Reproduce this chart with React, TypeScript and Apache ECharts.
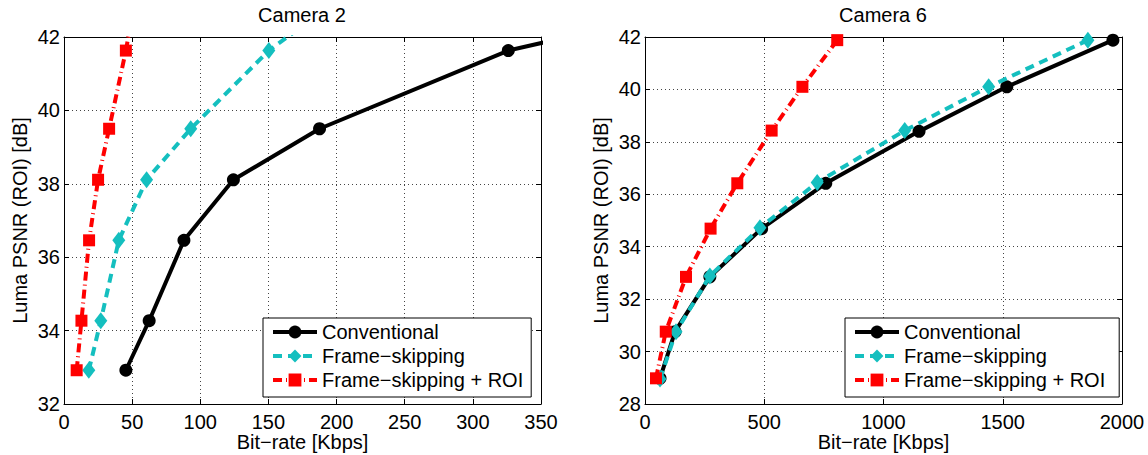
import React, { useEffect, useRef } from "react";
import * as echarts from "echarts";

// Camera 2 (left)
const cam2ConvX = [45.4, 62.5, 88, 124.3, 187.5, 326, 450];
const cam2ConvY = [32.92, 34.27, 36.46, 38.11, 39.5, 41.63, 42.68];
const cam2SkipX = [18.2, 27, 40.2, 60.6, 93, 150.3, 200];
const cam2SkipY = [32.92, 34.27, 36.46, 38.11, 39.5, 41.63, 42.98];
const cam2RoiX = [9.3, 12.8, 18.4, 25, 33.1, 45.4, 52];
const cam2RoiY = [32.92, 34.27, 36.46, 38.11, 39.5, 41.63, 43.0];

// Camera 6 (right)
const cam6ConvX = [63, 126, 272, 489, 758, 1149, 1517, 1962];
const cam6ConvY = [28.98, 30.76, 32.85, 34.69, 36.42, 38.4, 40.1, 41.88];
const cam6SkipX = [63, 130, 272, 482, 722, 1089, 1441, 1857];
const cam6SkipY = [28.95, 30.76, 32.88, 34.72, 36.45, 38.43, 40.1, 41.88];
const cam6RoiX = [46, 87, 172, 275, 387, 531, 660, 806];
const cam6RoiY = [28.98, 30.76, 32.85, 34.69, 36.42, 38.43, 40.1, 41.88];

const titles = ["Camera 2", "Camera 6"];
const seriesNames = ["Conventional", "Frame\u2212skipping", "Frame\u2212skipping + ROI"];
const xAxisName = "Bit\u2212rate [Kbps]";
const yAxisName = "Luma PSNR (ROI) [dB]";

const FONT = "Liberation Sans, Arial, Helvetica, sans-serif";
const CYAN = "#14bfbf";
const RED = "#ff0000";

const zip = (xs: number[], ys: number[]) => xs.map((x, i) => [x, ys[i]]);

export default function App() {
  const ref = useRef<HTMLDivElement>(null);
  useEffect(() => {
    if (!ref.current) return;
    const chart = echarts.init(ref.current, null, { renderer: "svg" });

    const grids = [
      { left: 64, top: 37, width: 477, height: 367, containLabel: false, outerBoundsMode: "none" },
      { left: 645, top: 37, width: 477, height: 367, containLabel: false, outerBoundsMode: "none" },
    ];
    const xRanges = [
      { min: 0, max: 350, interval: 50 },
      { min: 0, max: 2000, interval: 500 },
    ];
    const yRanges = [
      { min: 32, max: 42, interval: 2 },
      { min: 28, max: 42, interval: 2 },
    ];

    const labelStyle = { fontFamily: FONT, fontSize: 20, color: "#000" };
    const xAxes: any[] = [];
    const yAxes: any[] = [];
    [0, 1].forEach((g) => {
      xAxes.push({
        type: "value",
        gridIndex: g,
        position: "bottom",
        ...xRanges[g],
        name: xAxisName,
        nameLocation: "middle",
        nameGap: 28,
        nameMoveOverlap: false,
        nameTextStyle: { ...labelStyle, lineHeight: 20 },
        axisLine: { show: true, onZero: false, lineStyle: { color: "#000", width: 1 } },
        axisTick: { show: true, inside: true, length: 5, lineStyle: { color: "#000" } },
        axisLabel: { ...labelStyle, margin: 8, formatter: (v: number) => String(v) },
        splitLine: { show: true, lineStyle: { color: "#444", type: [1, 3], width: 1 } },
      });
      xAxes.push({
        type: "value",
        gridIndex: g,
        position: "top",
        ...xRanges[g],
        axisLine: { show: true, onZero: false, lineStyle: { color: "#000", width: 1 } },
        axisTick: { show: true, inside: true, length: 5, lineStyle: { color: "#000" } },
        axisLabel: { show: false },
        splitLine: { show: false },
      });
      yAxes.push({
        type: "value",
        gridIndex: g,
        position: "left",
        ...yRanges[g],
        name: yAxisName,
        nameLocation: "middle",
        nameRotate: 90,
        nameGap: 34,
        nameMoveOverlap: false,
        nameTextStyle: labelStyle,
        axisLine: { show: true, onZero: false, lineStyle: { color: "#000", width: 1 } },
        axisTick: { show: true, inside: true, length: 5, lineStyle: { color: "#000" } },
        axisLabel: { ...labelStyle, margin: 4, formatter: (v: number) => String(v) },
        splitLine: { show: true, lineStyle: { color: "#444", type: [1, 3], width: 1 } },
      });
      yAxes.push({
        type: "value",
        gridIndex: g,
        position: "right",
        ...yRanges[g],
        axisLine: { show: true, onZero: false, lineStyle: { color: "#000", width: 1 } },
        axisTick: { show: true, inside: true, length: 5, lineStyle: { color: "#000" } },
        axisLabel: { show: false },
        splitLine: { show: false },
      });
    });

    const mk = (name: string, g: number, data: number[][], kind: number) => {
      const base: any = {
        type: "line",
        name,
        xAxisIndex: g * 2,
        yAxisIndex: g * 2,
        data,
        clip: true,
        z: 2 + kind,
      };
      if (kind === 0) {
        return {
          ...base,
          symbol: "circle",
          symbolSize: 13,
          itemStyle: { color: "#000" },
          lineStyle: { color: "#000", width: 4 },
        };
      }
      if (kind === 1) {
        return {
          ...base,
          symbol: "diamond",
          symbolSize: [13, 17],
          itemStyle: { color: CYAN },
          lineStyle: { color: CYAN, width: 4, type: [9, 6] },
        };
      }
      return {
        ...base,
        symbol: "rect",
        symbolSize: 12,
        itemStyle: { color: RED },
        lineStyle: { color: RED, width: 4, type: [9, 4, 1, 4] },
      };
    };

    const series = [
      mk(seriesNames[0], 0, zip(cam2ConvX, cam2ConvY), 0),
      mk(seriesNames[1], 0, zip(cam2SkipX, cam2SkipY), 1),
      mk(seriesNames[2], 0, zip(cam2RoiX, cam2RoiY), 2),
      mk(seriesNames[0], 1, zip(cam6ConvX, cam6ConvY), 0),
      mk(seriesNames[1], 1, zip(cam6SkipX, cam6SkipY), 1),
      mk(seriesNames[2], 1, zip(cam6RoiX, cam6RoiY), 2),
    ];

    const legendBase = {
      orient: "vertical",
      top: 318,
      itemWidth: 44,
      itemHeight: 16,
      itemGap: 4,
      selectedMode: false,
      borderColor: "#000",
      borderWidth: 1,
      backgroundColor: "#fff",
      borderRadius: 0,
      textStyle: { fontFamily: FONT, fontSize: 20, color: "#000", lineHeight: 20 },
      lineStyle: { width: 4 },
      data: seriesNames,
      z: 10,
    };

    chart.setOption({
      animation: false,
      textStyle: { fontFamily: FONT },
      title: [
        {
          text: titles[0],
          left: 302,
          top: 5,
          textAlign: "center",
          padding: 0,
          textStyle: { fontFamily: FONT, fontSize: 20, fontWeight: "normal", color: "#000" },
        },
        {
          text: titles[1],
          left: 883,
          top: 5,
          textAlign: "center",
          padding: 0,
          textStyle: { fontFamily: FONT, fontSize: 20, fontWeight: "normal", color: "#000" },
        },
      ],
      legend: [
        { ...legendBase, left: 263, padding: [4, 8, 7, 8] },
        { ...legendBase, left: 845, padding: [4, 14, 7, 8] },
      ],
      grid: grids,
      xAxis: xAxes,
      yAxis: yAxes,
      series,
    });

    return () => chart.dispose();
  }, []);

  return (
    <div
      ref={ref}
      style={{ position: "absolute", left: 0, top: 0, width: 1148, height: 455, background: "#fff" }}
    />
  );
}
